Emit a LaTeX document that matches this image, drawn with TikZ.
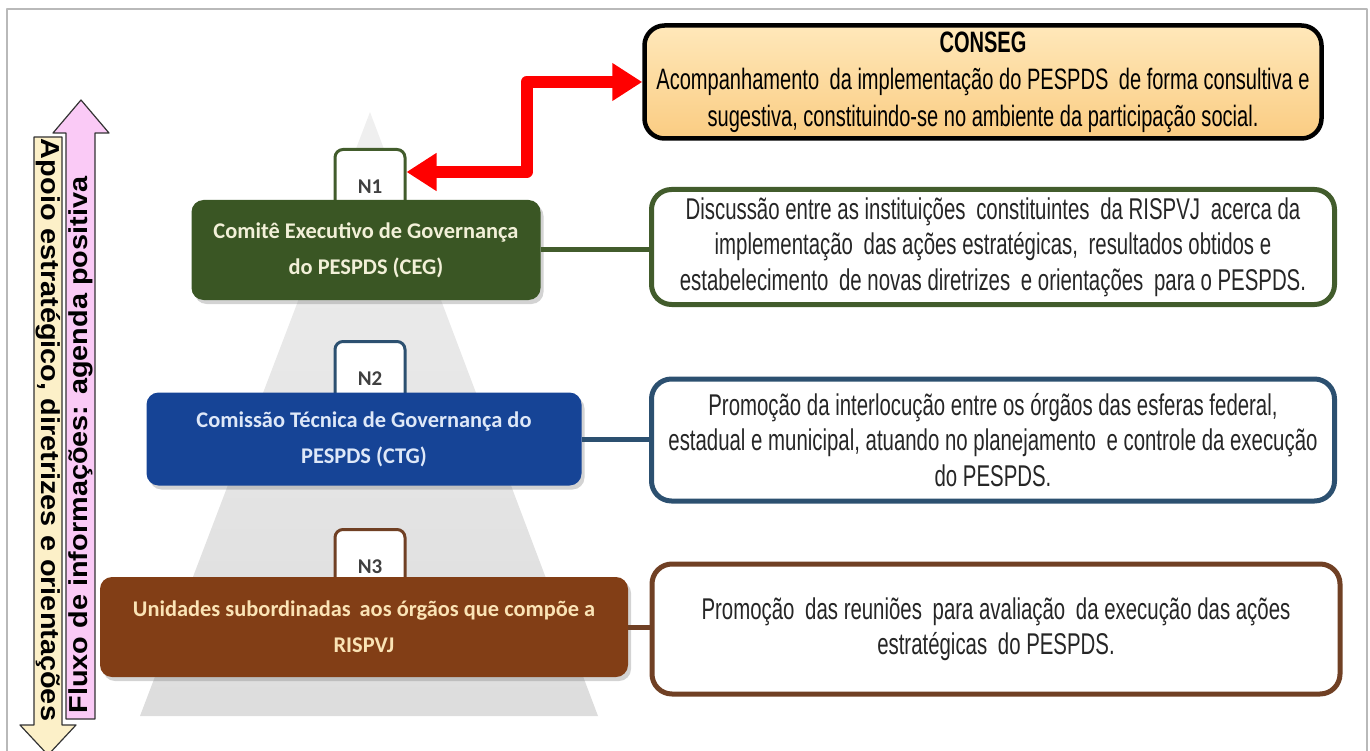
\documentclass[tikz,border=0pt]{standalone}
\usepackage{fontspec}
\setmainfont{Carlito}
\newfontfamily\agency[FakeStretch=0.68]{Liberation Sans}
\newfontfamily\agencywide[FakeStretch=1.11]{Liberation Sans}
\usetikzlibrary{arrows.meta,positioning,shadows}

\definecolor{cegfill}{RGB}{58,86,36}
\definecolor{ctgfill}{RGB}{22,68,150}
\definecolor{unifill}{RGB}{130,62,22}
\definecolor{cegline}{RGB}{66,92,44}
\definecolor{ctgline}{RGB}{44,80,112}
\definecolor{uniline}{RGB}{112,64,36}
\definecolor{consegfill}{RGB}{250,204,130}
\definecolor{pinkarrow}{RGB}{250,202,246}
\definecolor{yellowarrow}{RGB}{252,240,200}

\begin{document}
\begin{tikzpicture}[x=1pt, y=-1pt, line join=round, >=Triangle]
	\tikzset{
		tab/.style={draw=#1, line width=3pt, fill=white, rounded corners=8pt, minimum width=70pt, minimum height=75pt, anchor=north, font=\fontsize{21}{21}\selectfont\bfseries, text=black!75},
		level/.style={fill=#1, rounded corners=12pt, align=center, font=\fontsize{22.4}{36}\selectfont\bfseries, drop shadow={opacity=0.35, shadow xshift=3pt, shadow yshift=-4pt}},
		desc/.style={draw=#1, line width=5pt, fill=white, rounded corners=20pt, align=center, font=\agency\fontsize{30}{35.5}\selectfont, text=black!85},
		link/.style={draw=#1, line width=5pt},
		vtext/.style={font=\agencywide\fontsize{26}{26}\selectfont\bfseries}
	}
	\useasboundingbox (0,0) rectangle (1370,751);
	\draw[gray!55, line width=2pt] (7,9) rectangle (1367,800);
	% piramide
	\path (370,112) coordinate (T)
	(140,716) coordinate (L)
	(598,716) coordinate (R)
	;
	\shade[top color=gray!12, bottom color=gray!27] (T)--(L)--(R)--cycle;
	% abas dos niveis
	\foreach \n/\y/\c in {1/148/cegline, 2/340/ctgline, 3/528/uniline}
	\node[tab=\c] (n\n) at (370,\y) {N\n};
	% niveis
	\node[level=cegfill, minimum width=349pt, minimum height=100pt, text={rgb,255:red,242;green,240;blue,216}] (ceg) at (366,250) {Comitê Executivo de Governança\\do PESPDS (CEG)};
	\node[level=ctgfill, minimum width=435pt, minimum height=93pt, text={rgb,255:red,222;green,232;blue,248}] (ctg) at (364,439) {Comissão Técnica de Governança do\\PESPDS (CTG)};
	\node[level=unifill, minimum width=528pt, minimum height=100pt, text={rgb,255:red,250;green,227;blue,181}] (uni) at (364,627) {Unidades subordinadas \,aos órgãos que compõe a\\RISPVJ};
	% descricoes
	\node[desc=black, minimum width=677pt, minimum height=113pt, top color={rgb,255:red,255;green,232;blue,186}, bottom color=consegfill, line width=4.5pt, text=black, font=\agency\fontsize{29.5}{37}\selectfont] (conseg) at (983,82) {\bfseries CONSEG\\Acompanhamento \,da implementação do PESPDS \,de forma consultiva e\\sugestiva, constituindo-se no ambiente da participação social.};
	\node[desc=cegline, minimum width=683pt, minimum height=115pt] (dceg) at (993,247) {Discussão entre as instituições \,constituintes \,da RISPVJ \,acerca da\\implementação \,das ações estratégicas, \,resultados obtidos e\\estabelecimento \,de novas diretrizes \,e orientações \,para o PESPDS.};
	\node[desc=ctgline, minimum width=683pt, minimum height=122pt] (dctg) at (993,440) {Promoção da interlocução entre os órgãos das esferas federal,\\estadual e municipal, atuando no planejamento \,e controle da execução\\do PESPDS.};
	\node[desc=uniline, minimum width=688pt, minimum height=130pt] (duni) at (996,629) {Promoção \,das reuniões \,para avaliação \,da execução das ações\\estratégicas \,do PESPDS.};
	% ligacoes
	\draw[link=cegline] (ceg.east) -- (ceg.east -| dceg.west);
	\draw[link=ctgline] (ctg.east) -- (ctg.east -| dctg.west);
	\draw[link=uniline] (uni.east) -- (uni.east -| duni.west);
	\draw[red, line width=12pt, {Triangle[length=30pt,width=36pt]}-{Triangle[length=30pt,width=36pt]}] ([yshift=-24pt]n1.north east) -- ++(120,0) |- (conseg.west);
	% setas verticais
	\draw[line width=1.2pt, draw=black!80, fill=yellowarrow] (34,137) -- (62,137) -- (62,725) -- (76,725) -- (48,755) -- (20,725) -- (34,725) -- cycle;
	\draw[line width=1.2pt, draw=black!80, fill=pinkarrow] (66,719) -- (66,133) -- (53,133) -- (81,100) -- (109,133) -- (95,133) -- (95,719) -- cycle;
	\node[rotate=-90, vtext] (apoio) at (48,430) {Apoio estratégico, diretrizes e orientações};
	\node[rotate=90, vtext] (fluxo) at (81,445) {Fluxo de informações: agenda positiva};
\end{tikzpicture}
\end{document}
